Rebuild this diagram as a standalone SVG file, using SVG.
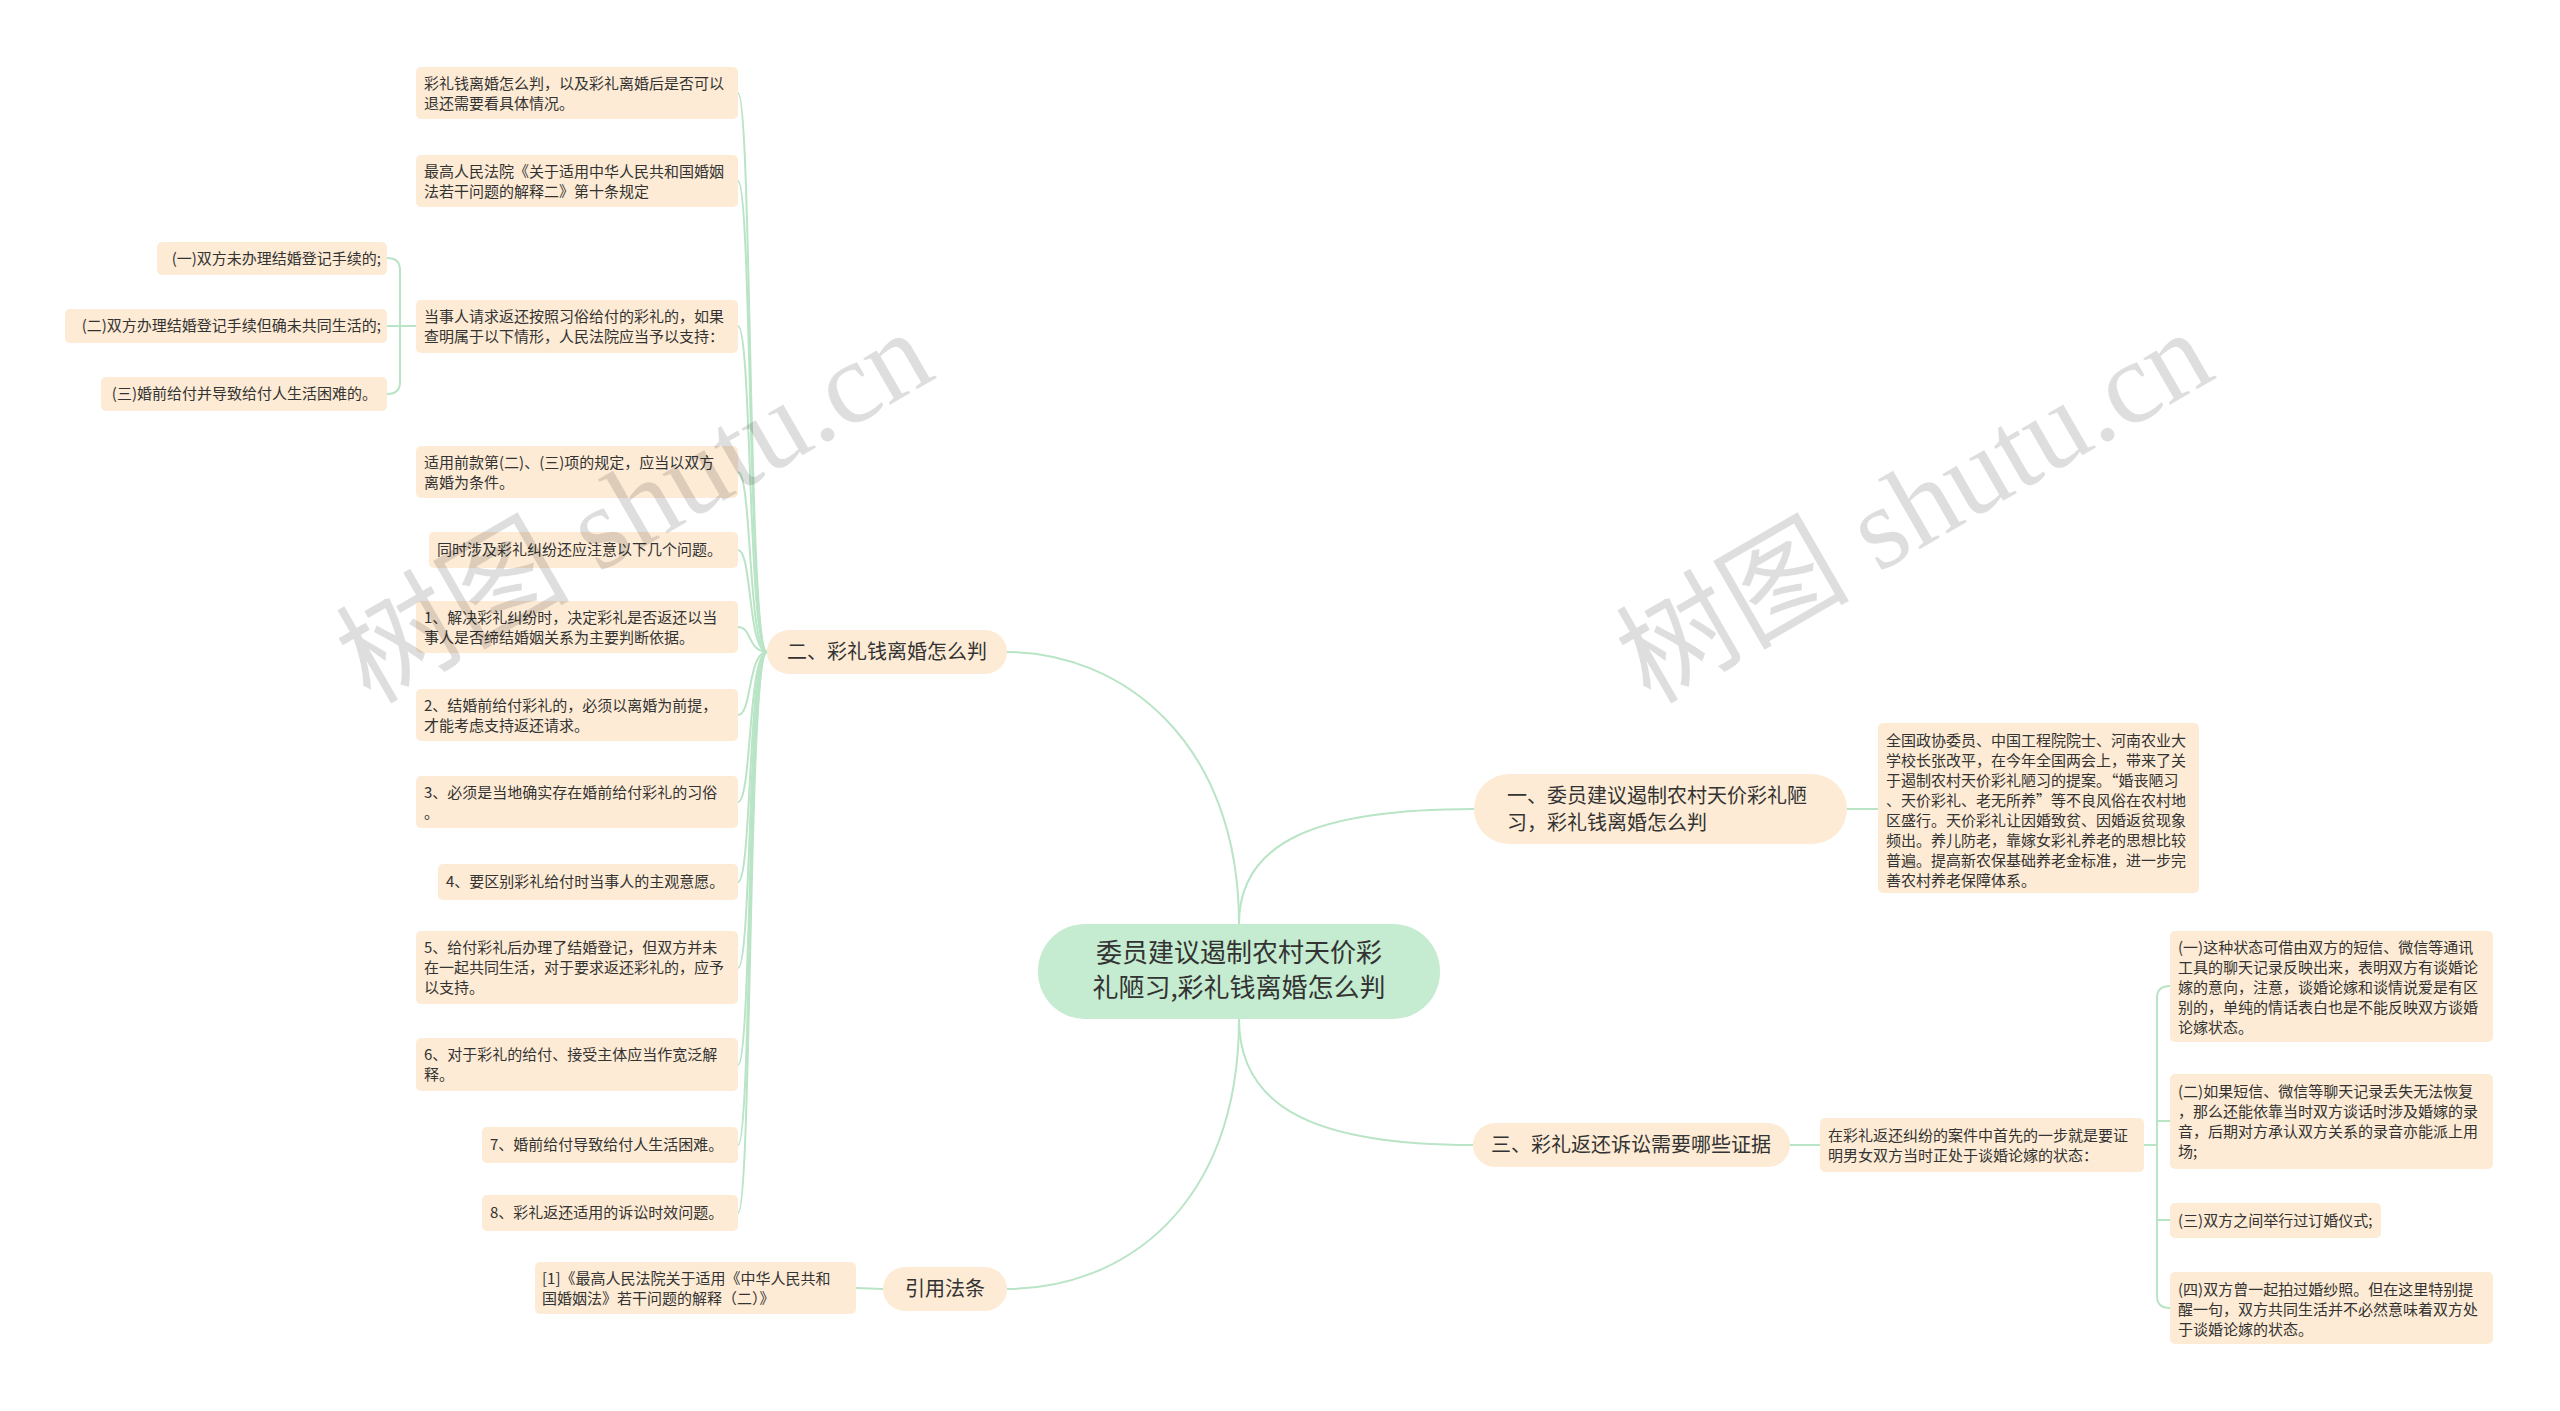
<svg xmlns="http://www.w3.org/2000/svg" width="2560" height="1411" viewBox="0 0 2560 1411">
<style>
text{font-family:"Noto Sans CJK SC","Liberation Sans",sans-serif;fill:#333}
.leaf rect{fill:#fdebd5}
.leaf text{font-size:15px}
.br rect{fill:#fdebd5}
.br text{font-size:20px}
.c{fill:none;stroke:#b9e4c6;stroke-width:2}
.wm{font-family:"Liberation Serif","Noto Sans CJK SC",serif;font-size:117px;fill:#000;fill-opacity:0.13}
</style>
<rect width="2560" height="1411" fill="#fff"/>
<g id="connectors">
<path class="c" d="M1239,924 C1239,740 1120,652 1007,652"/>
<path class="c" d="M1239,1019 C1239,1210 1120,1289 1007,1289"/>
<path class="c" d="M1239,924 C1239,840 1320,809 1474,809"/>
<path class="c" d="M1239,1019 C1239,1110 1320,1145 1473,1145"/>
<path class="c" d="M1847,809 L1878,809"/>
<path class="c" d="M1790,1145 L1820,1145"/>
<path class="c" d="M2144,1145 L2157,1145"/>
<path class="c" d="M2170,986 Q2157,986 2157,998 L2157,1296 Q2157,1308 2170,1308"/>
<path class="c" d="M2157,1121 L2170,1121 M2157,1220 L2170,1220"/>
<path class="c" d="M883,1289 L856,1288"/>
<path class="c" d="M416,326 L400,326 M387,258 Q400,258 400,270 L400,382 Q400,394 387,394 M387,326 L400,326"/>
<path class="c" d="M767,652 C748,652 752,93 738,93"/>
<path class="c" d="M767,652 C748,652 752,181 738,181"/>
<path class="c" d="M767,652 C748,652 752,326 738,326"/>
<path class="c" d="M767,652 C748,652 752,472 738,472"/>
<path class="c" d="M767,652 C748,652 752,550 738,550"/>
<path class="c" d="M767,652 C748,652 752,627 738,627"/>
<path class="c" d="M767,652 C748,652 752,715 738,715"/>
<path class="c" d="M767,652 C748,652 752,802 738,802"/>
<path class="c" d="M767,652 C748,652 752,882 738,882"/>
<path class="c" d="M767,652 C748,652 752,968 738,968"/>
<path class="c" d="M767,652 C748,652 752,1065 738,1065"/>
<path class="c" d="M767,652 C748,652 752,1145 738,1145"/>
<path class="c" d="M767,652 C748,652 752,1213 738,1213"/>
</g>
<g id="center"><rect x="1038" y="924" width="402" height="95" rx="47" fill="#c5ebd0"/>
<text x="1239" y="962" font-size="26" text-anchor="middle">委员建议遏制农村天价彩</text>
<text x="1239" y="997" font-size="26" text-anchor="middle">礼陋习,彩礼钱离婚怎么判</text></g>
<g id="b2" class="br"><rect x="767" y="630" width="240" height="44" rx="22"/><text x="887" y="659" text-anchor="middle">二、彩礼钱离婚怎么判</text></g>
<g id="bref" class="br"><rect x="883" y="1267" width="124" height="44" rx="22"/><text x="945" y="1296" text-anchor="middle">引用法条</text></g>
<g id="b1" class="br"><rect x="1474" y="774" width="373" height="70" rx="35"/><text x="1507" y="803">一、委员建议遏制农村天价彩礼陋</text><text x="1507" y="830">习，彩礼钱离婚怎么判</text></g>
<g id="b3" class="br"><rect x="1473" y="1123" width="317" height="44" rx="22"/><text x="1631" y="1152" text-anchor="middle">三、彩礼返还诉讼需要哪些证据</text></g>
<g id="l1" class="leaf"><rect x="416" y="67" width="322" height="52" rx="5"/><text x="424" y="89">彩礼钱离婚怎么判，以及彩礼离婚后是否可以</text><text x="424" y="109">退还需要看具体情况。</text></g>
<g id="l2" class="leaf"><rect x="416" y="155" width="322" height="52" rx="5"/><text x="424" y="177">最高人民法院《关于适用中华人民共和国婚姻</text><text x="424" y="197">法若干问题的解释二》第十条规定</text></g>
<g id="l3" class="leaf"><rect x="416" y="300" width="322" height="53" rx="5"/><text x="424" y="322">当事人请求返还按照习俗给付的彩礼的，如果</text><text x="424" y="342">查明属于以下情形，人民法院应当予以支持：</text></g>
<g id="s1" class="leaf"><rect x="157" y="242" width="230" height="33" rx="5"/><text x="381" y="264" text-anchor="end">(一)双方未办理结婚登记手续的;</text></g>
<g id="s2" class="leaf"><rect x="65" y="309" width="322" height="34" rx="5"/><text x="381" y="331" text-anchor="end">(二)双方办理结婚登记手续但确未共同生活的;</text></g>
<g id="s3" class="leaf"><rect x="101" y="377" width="286" height="34" rx="5"/><text x="377" y="399" text-anchor="end">(三)婚前给付并导致给付人生活困难的。</text></g>
<g id="l4" class="leaf"><rect x="416" y="446" width="322" height="52" rx="5"/><text x="424" y="468">适用前款第(二)、(三)项的规定，应当以双方</text><text x="424" y="488">离婚为条件。</text></g>
<g id="l5" class="leaf"><rect x="429" y="532" width="309" height="36" rx="5"/><text x="437" y="555">同时涉及彩礼纠纷还应注意以下几个问题。</text></g>
<g id="l6" class="leaf"><rect x="416" y="601" width="322" height="52" rx="5"/><text x="424" y="623">1、解决彩礼纠纷时，决定彩礼是否返还以当</text><text x="424" y="643">事人是否缔结婚姻关系为主要判断依据。</text></g>
<g id="l7" class="leaf"><rect x="416" y="689" width="322" height="52" rx="5"/><text x="424" y="711">2、结婚前给付彩礼的，必须以离婚为前提，</text><text x="424" y="731">才能考虑支持返还请求。</text></g>
<g id="l8" class="leaf"><rect x="416" y="776" width="322" height="52" rx="5"/><text x="424" y="798">3、必须是当地确实存在婚前给付彩礼的习俗</text><text x="424" y="818">。</text></g>
<g id="l9" class="leaf"><rect x="438" y="864" width="300" height="36" rx="5"/><text x="446" y="887">4、要区别彩礼给付时当事人的主观意愿。</text></g>
<g id="l10" class="leaf"><rect x="416" y="931" width="322" height="73" rx="5"/><text x="424" y="953">5、给付彩礼后办理了结婚登记，但双方并未</text><text x="424" y="973">在一起共同生活，对于要求返还彩礼的，应予</text><text x="424" y="993">以支持。</text></g>
<g id="l11" class="leaf"><rect x="416" y="1038" width="322" height="53" rx="5"/><text x="424" y="1060">6、对于彩礼的给付、接受主体应当作宽泛解</text><text x="424" y="1080">释。</text></g>
<g id="l12" class="leaf"><rect x="482" y="1127" width="256" height="36" rx="5"/><text x="490" y="1150">7、婚前给付导致给付人生活困难。</text></g>
<g id="l13" class="leaf"><rect x="482" y="1195" width="256" height="36" rx="5"/><text x="490" y="1218">8、彩礼返还适用的诉讼时效问题。</text></g>
<g id="lref" class="leaf"><rect x="535" y="1262" width="321" height="52" rx="5"/><text x="542" y="1284">[1]《最高人民法院关于适用《中华人民共和</text><text x="542" y="1304">国婚姻法》若干问题的解释（二）》</text></g>
<g id="r1" class="leaf"><rect x="1878" y="723" width="321" height="170" rx="5"/>
<text x="1886" y="746">全国政协委员、中国工程院院士、河南农业大</text><text x="1886" y="766">学校长张改平，在今年全国两会上，带来了关</text><text x="1886" y="786">于遏制农村天价彩礼陋习的提案。“婚丧陋习</text><text x="1886" y="806">、天价彩礼、老无所养”等不良风俗在农村地</text><text x="1886" y="826">区盛行。天价彩礼让因婚致贫、因婚返贫现象</text><text x="1886" y="846">频出。养儿防老，靠嫁女彩礼养老的思想比较</text><text x="1886" y="866">普遍。提高新农保基础养老金标准，进一步完</text><text x="1886" y="886">善农村养老保障体系。</text></g>
<g id="r3" class="leaf"><rect x="1820" y="1118" width="324" height="54" rx="5"/><text x="1828" y="1141">在彩礼返还纠纷的案件中首先的一步就是要证</text><text x="1828" y="1161">明男女双方当时正处于谈婚论嫁的状态：</text></g>
<g id="r3a" class="leaf"><rect x="2170" y="931" width="323" height="111" rx="5"/><text x="2178" y="953">(一)这种状态可借由双方的短信、微信等通讯</text><text x="2178" y="973">工具的聊天记录反映出来，表明双方有谈婚论</text><text x="2178" y="993">嫁的意向，注意，谈婚论嫁和谈情说爱是有区</text><text x="2178" y="1013">别的，单纯的情话表白也是不能反映双方谈婚</text><text x="2178" y="1033">论嫁状态。</text></g>
<g id="r3b" class="leaf"><rect x="2170" y="1074" width="323" height="95" rx="5"/><text x="2178" y="1097">(二)如果短信、微信等聊天记录丢失无法恢复</text><text x="2178" y="1117">，那么还能依靠当时双方谈话时涉及婚嫁的录</text><text x="2178" y="1137">音，后期对方承认双方关系的录音亦能派上用</text><text x="2178" y="1157">场;</text></g>
<g id="r3c" class="leaf"><rect x="2170" y="1203" width="211" height="35" rx="5"/><text x="2178" y="1226">(三)双方之间举行过订婚仪式;</text></g>
<g id="r3d" class="leaf"><rect x="2170" y="1272" width="323" height="72" rx="5"/><text x="2178" y="1295">(四)双方曾一起拍过婚纱照。但在这里特别提</text><text x="2178" y="1315">醒一句，双方共同生活并不必然意味着双方处</text><text x="2178" y="1335">于谈婚论嫁的状态。</text></g>
<g id="watermark">
<text class="wm" transform="translate(370,705) rotate(-30)">树图 shutu.cn</text>
<text class="wm" transform="translate(1650,705) rotate(-30)">树图 shutu.cn</text>
</g>
</svg>
